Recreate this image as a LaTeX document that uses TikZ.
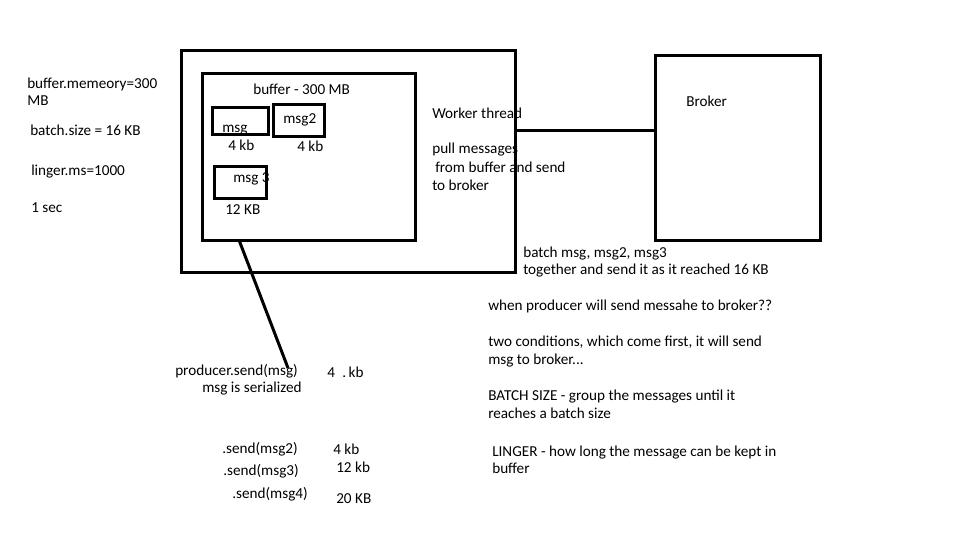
\documentclass[tikz,border=0pt]{standalone}
\usepackage{fontspec}
\setmainfont{Carlito}
\usepackage{tikz}
\usetikzlibrary{positioning}

\begin{document}
\begin{tikzpicture}[x=0.75pt,y=-0.75pt,
		every node/.style={font=\fontsize{11.4}{13}\selectfont, inner sep=0pt},
		txt/.style={anchor=base west},
		box/.style={draw, line width=2.25pt, anchor=north west, inner sep=0pt, outer sep=0pt},
		wire/.style={line width=2.25pt}]
		\useasboundingbox (0,0) rectangle (960,540);
		
		% boxes
		\node[box, minimum width=250.5pt, minimum height=166.5pt] (producer) at (181,50) {};
		\node[box, minimum width=159.75pt, minimum height=125.25pt] (buffer) at (202,73) {};
		\node[box, minimum width=42pt, minimum height=20.25pt] (msg1) at (212,107) {};
		\node[box, minimum width=38.25pt, minimum height=24pt] (msg2) at (273,104) {};
		\node[box, minimum width=39pt, minimum height=24pt] (msg3) at (214,166) {};
		\node[box, minimum width=123.75pt, minimum height=138.75pt] (broker) at (655,55) {};
		
		% settings
		\node[txt] (mem)    at (27,88)  {buffer.memeory=300};
		\node[txt] (memu)   at (27,105) {MB};
		\node[txt] (batch)  at (30,135) {batch.size = 16 KB};
		\node[txt] (linger) at (31,175) {linger.ms=1000};
		\node[txt] (sec)    at (31,212) {1 sec};
		
		% buffer content
		\node[txt] (buflbl) at (253,94)  {buffer - 300 MB};
		\node[txt] (m1lbl)  at (222,132) {msg};
		\node[txt] (m2lbl)  at (283,123) {msg2};
		\node[txt] (m1kb)   at (228,150) {4 kb};
		\node[txt] (m2kb)   at (297,151) {4 kb};
		\node[txt] (m3lbl)  at (233,182) {msg 3};
		\node[txt] (m3kb)   at (225,214) {12 KB};
		
		% worker
		\node[txt] (worker) at (432,118) {Worker thread};
		\node[txt] (pull1)  at (432,153) {pull messages};
		\node[txt] (pull2)  at (435,172) {from buffer and send};
		\node[txt] (pull3)  at (432,190) {to broker};
		\node[txt] (brklbl) at (686,106) {Broker};
		
		% notes
		\node[txt] (note1) at (523,257) {batch msg, msg2, msg3};
		\node[txt] (note2) at (523,274) {together and send it as it reached 16 KB};
		\node[txt] (note3) at (488,310) {when producer will send messahe to broker??};
		\node[txt] (note4) at (488,346) {two conditions, which come first, it will send};
		\node[txt] (note5) at (488,364) {msg to broker...};
		\node[txt] (note6) at (488,400) {BATCH SIZE - group the messages until it};
		\node[txt] (note7) at (488,418) {reaches a batch size};
		\node[txt] (note8) at (492,456) {LINGER - how long the message can be kept in};
		\node[txt] (note9) at (492,473) {buffer};
		
		% sends
		\node[txt] (send1)  at (175,375) {producer.send(msg)};
		\node[txt] (serial) at (202,392) {msg is serialized};
		\node[txt] (s1kb)   at (327,377) {4};
		\node[txt] (s1kbu)  at (342,377) {.\,kb};
		\node[txt] (send2)  at (222,453) {.send(msg2)};
		\node[txt] (s2kb)   at (333,454) {4 kb};
		\node[txt] (send3)  at (223,475) {.send(msg3)};
		\node[txt] (s3kb)   at (336,472) {12 kb};
		\node[txt] (send4)  at (232,498) {.send(msg4)};
		\node[txt] (s4kb)   at (336,503) {20 KB};
		
		% connectors
		\coordinate (wt)   at (515,130);
		\coordinate (bufo) at (239,240);
		\coordinate (sendo) at (288,368);
		\draw[wire] (wt) -- (broker.west |- wt);
		\draw[wire] (bufo) -- (sendo);
		\end{tikzpicture}
\end{document}
